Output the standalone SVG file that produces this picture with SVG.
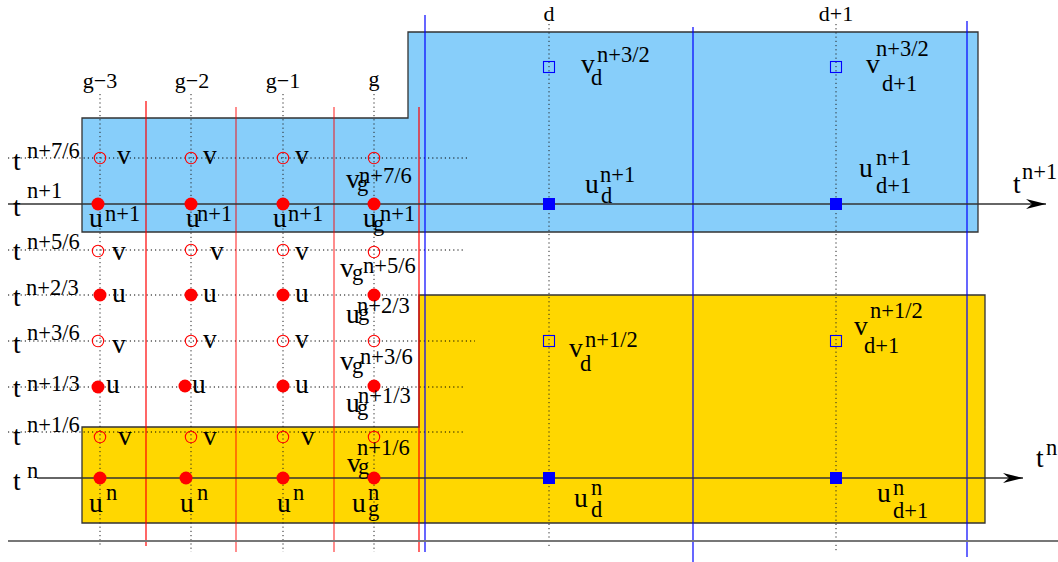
<svg xmlns="http://www.w3.org/2000/svg" width="1058" height="562" viewBox="0 0 1058 562">
<defs>
<style>
text{font-family:"Liberation Serif","Times New Roman",serif;fill:#000}
.m{font-size:27.5px}
.s{font-size:22.5px}
.c{font-size:22px;text-anchor:middle}
.dh{stroke:#000;stroke-width:1;stroke-dasharray:1.2 3;fill:none}
.dv{stroke:#222;stroke-width:1;stroke-dasharray:1.2 3;fill:none}
.rl{stroke:#f00;stroke-width:1.2}
.bl{stroke:#00f;stroke-width:1.2}
.ax{stroke:#333;stroke-width:1.4;fill:none}
.uf{fill:#f00}
.vo{fill:none;stroke:#f00;stroke-width:1.1}
.sf{fill:#00f}
.so{fill:none;stroke:#00f;stroke-width:1.1}
</style>
<marker id="arr" markerUnits="userSpaceOnUse" markerWidth="22" markerHeight="12" refX="20" refY="6" orient="auto" viewBox="0 0 22 12">
<path d="M0,1 L20,6 L0,11 L6,6 Z" fill="#000"/>
</marker>
</defs>
<rect width="1058" height="562" fill="#fff"/>
<g id="regions">
<polygon points="82,118 408,118 408,32 978,32 978,232 82,232" fill="#87cefa" stroke="#333" stroke-width="1.3"/>
<polygon points="82,427 419,427 419,295 985,295 985,523 82,523" fill="#ffd700" stroke="#333" stroke-width="1.3"/>
</g>
<g id="grid">
<line class="dh" x1="8" y1="158" x2="470" y2="158"/>
<line class="dh" x1="8" y1="250" x2="463" y2="250"/>
<line class="dh" x1="8" y1="295" x2="419" y2="295"/>
<line class="dh" x1="8" y1="341" x2="475" y2="341"/>
<line class="dh" x1="8" y1="387" x2="463" y2="387"/>
<line class="dh" x1="8" y1="432" x2="463" y2="432"/>
<line class="dv" x1="100" y1="94" x2="100" y2="547"/>
<line class="dv" x1="191" y1="94" x2="191" y2="552"/>
<line class="dv" x1="283" y1="94" x2="283" y2="552"/>
<line class="dv" x1="374" y1="94" x2="374" y2="552"/>
<line class="dv" x1="549" y1="24" x2="549" y2="547"/>
<line class="dv" x1="836" y1="24" x2="836" y2="552"/>
<line class="rl" x1="146" y1="101" x2="146" y2="546"/>
<line class="rl" x1="236" y1="107" x2="236" y2="552" stroke-opacity="0.75"/>
<line class="rl" x1="334" y1="107" x2="334" y2="552" stroke-opacity="0.75"/>
<line class="rl" x1="419" y1="107" x2="419" y2="552"/>
<line class="bl" x1="425" y1="15" x2="425" y2="552"/>
<line class="bl" x1="693" y1="27" x2="693" y2="562"/>
<line class="bl" x1="967" y1="21" x2="967" y2="557"/>
<line x1="8" y1="541" x2="1058" y2="541" stroke="#777" stroke-width="2"/>
</g>
<g id="connectors">
<line class="ax" x1="8" y1="204" x2="1046" y2="204" marker-end="url(#arr)"/>
<line class="ax" x1="37" y1="478" x2="1023" y2="478" marker-end="url(#arr)"/>
</g>
<g id="column-labels">
<text class="c" x="100" y="88">g−3</text>
<text class="c" x="192" y="88">g−2</text>
<text class="c" x="283" y="88">g−1</text>
<text class="c" x="374" y="86">g</text>
<text class="c" x="549" y="21">d</text>
<text class="c" x="836" y="21">d+1</text>
</g>
<g id="time-labels">
<text class="m" x="13" y="170">t</text><text class="s" x="27" y="158">n+7/6</text>
<text class="m" x="13" y="216">t</text><text class="s" x="27" y="198">n+1</text>
<text class="m" x="13" y="260">t</text><text class="s" x="27" y="249">n+5/6</text>
<text class="m" x="13" y="306">t</text><text class="s" x="26" y="295">n+2/3</text>
<text class="m" x="13" y="353">t</text><text class="s" x="27" y="340">n+3/6</text>
<text class="m" x="13" y="397">t</text><text class="s" x="27" y="391">n+1/3</text>
<text class="m" x="13" y="445">t</text><text class="s" x="27" y="432">n+1/6</text>
<text class="m" x="13" y="490">t</text><text class="s" x="27" y="478">n</text>
<text class="m" x="1013" y="193">t</text><text class="s" x="1022" y="179">n+1</text>
<text class="m" x="1036" y="467">t</text><text class="s" x="1046" y="455">n</text>
</g>
<g id="row-7-6">
<circle class="vo" cx="100" cy="158" r="5.7"/><text class="m" x="117" y="164">v</text>
<circle class="vo" cx="191" cy="158" r="5.7"/><text class="m" x="203" y="164">v</text>
<circle class="vo" cx="283" cy="158" r="5.7"/><text class="m" x="295" y="164">v</text>
<circle class="vo" cx="374" cy="158" r="5.7"/><text class="m" x="346" y="188">v</text><text class="s" x="357" y="191">g</text><text class="s" x="359" y="183">n+7/6</text>
</g>
<g id="row-1">
<circle class="uf" cx="98" cy="204" r="6.5"/><text class="m" x="89" y="227">u</text><text class="s" x="105" y="221">n+1</text>
<circle class="uf" cx="191" cy="204" r="6.5"/><text class="m" x="186" y="227">u</text><text class="s" x="197" y="221">n+1</text>
<circle class="uf" cx="283" cy="204" r="6.5"/><text class="m" x="273" y="227">u</text><text class="s" x="288" y="221">n+1</text>
<circle class="uf" cx="374" cy="204" r="6.5"/><text class="m" x="363" y="227">u</text><text class="s" x="373" y="231">g</text><text class="s" x="380" y="221">n+1</text>
</g>
<g id="row-5-6">
<circle class="vo" cx="98" cy="251" r="5.7"/><text class="m" x="112" y="260">v</text>
<circle class="vo" cx="191" cy="250" r="5.7"/><text class="m" x="210" y="260">v</text>
<circle class="vo" cx="283" cy="250" r="5.7"/><text class="m" x="295" y="260">v</text>
<circle class="vo" cx="374" cy="252" r="5.7"/><text class="m" x="340" y="277">v</text><text class="s" x="352" y="280">g</text><text class="s" x="363" y="273">n+5/6</text>
</g>
<g id="row-2-3">
<circle class="uf" cx="100" cy="295" r="6.5"/><text class="m" x="112" y="302">u</text>
<circle class="uf" cx="191" cy="295" r="6.5"/><text class="m" x="203" y="302">u</text>
<circle class="uf" cx="283" cy="295" r="6.5"/><text class="m" x="295" y="302">u</text>
<circle class="uf" cx="374" cy="295" r="6.5"/><text class="m" x="346" y="323">u</text><text class="s" x="358" y="320">g</text><text class="s" x="357" y="313">n+2/3</text>
</g>
<g id="row-3-6">
<circle class="vo" cx="98" cy="341" r="5.7"/><text class="m" x="112" y="353">v</text>
<circle class="vo" cx="191" cy="341" r="5.7"/><text class="m" x="203" y="348">v</text>
<circle class="vo" cx="283" cy="341" r="5.7"/><text class="m" x="295" y="348">v</text>
<circle class="vo" cx="374" cy="341" r="5.7"/><text class="m" x="340" y="370">v</text><text class="s" x="352" y="373">g</text><text class="s" x="360" y="364">n+3/6</text>
</g>
<g id="row-1-3">
<circle class="uf" cx="98" cy="387" r="6.5"/><text class="m" x="106" y="393">u</text>
<circle class="uf" cx="185" cy="386" r="6.5"/><text class="m" x="192" y="393">u</text>
<circle class="uf" cx="283" cy="386" r="6.5"/><text class="m" x="295" y="393">u</text>
<circle class="uf" cx="374" cy="386" r="6.5"/><text class="m" x="346" y="412">u</text><text class="s" x="357" y="415">g</text><text class="s" x="358" y="403">n+1/3</text>
</g>
<g id="row-1-6">
<circle class="vo" cx="100" cy="437" r="5.7"/><text class="m" x="118" y="445">v</text>
<circle class="vo" cx="191" cy="437" r="5.7"/><text class="m" x="203" y="445">v</text>
<circle class="vo" cx="283" cy="437" r="5.7"/><text class="m" x="301" y="445">v</text>
<circle class="vo" cx="374" cy="437" r="5.7"/><text class="m" x="347" y="472">v</text><text class="s" x="358" y="474">g</text><text class="s" x="357" y="455">n+1/6</text>
</g>
<g id="row-0">
<circle class="uf" cx="100" cy="478" r="6.5"/><text class="m" x="89" y="512">u</text><text class="s" x="106" y="500">n</text>
<circle class="uf" cx="186" cy="478" r="6.5"/><text class="m" x="180" y="512">u</text><text class="s" x="197" y="500">n</text>
<circle class="uf" cx="283" cy="478" r="6.5"/><text class="m" x="277" y="512">u</text><text class="s" x="293" y="500">n</text>
<circle class="uf" cx="374" cy="478" r="6.5"/><text class="m" x="352" y="512">u</text><text class="s" x="368" y="500">n</text><text class="s" x="368" y="516">g</text>
</g>
<g id="node-vd-32">
<rect class="so" x="543.5" y="61.5" width="11" height="11"/><text class="m" x="581" y="73">v</text><text class="s" x="591" y="85">d</text><text class="s" x="597" y="62">n+3/2</text>
</g>
<g id="node-vd1-32">
<rect class="so" x="830.5" y="61.5" width="11" height="11"/><text class="m" x="866" y="73">v</text><text class="s" x="882" y="91">d+1</text><text class="s" x="876" y="56">n+3/2</text>
</g>
<g id="node-ud-1">
<rect class="sf" x="543" y="198" width="12" height="12"/><text class="m" x="585" y="193">u</text><text class="s" x="601" y="203">d</text><text class="s" x="600" y="182">n+1</text>
</g>
<g id="node-ud1-1">
<rect class="sf" x="830" y="198" width="12" height="12"/><text class="m" x="859" y="177">u</text><text class="s" x="876" y="193">d+1</text><text class="s" x="876" y="165">n+1</text>
</g>
<g id="node-vd-12">
<rect class="so" x="543.5" y="335.5" width="11" height="11"/><text class="m" x="569" y="357">v</text><text class="s" x="580" y="371">d</text><text class="s" x="585" y="347">n+1/2</text>
</g>
<g id="node-vd1-12">
<rect class="so" x="830.5" y="335.5" width="11" height="11"/><text class="m" x="854" y="335">v</text><text class="s" x="864" y="353">d+1</text><text class="s" x="870" y="318">n+1/2</text>
</g>
<g id="node-ud-0">
<rect class="sf" x="543" y="472" width="12" height="12"/><text class="m" x="574" y="507">u</text><text class="s" x="591" y="517">d</text><text class="s" x="591" y="495">n</text>
</g>
<g id="node-ud1-0">
<rect class="sf" x="830" y="472" width="12" height="12"/><text class="m" x="877" y="502">u</text><text class="s" x="893" y="518">d+1</text><text class="s" x="893" y="495">n</text>
</g>
</svg>
